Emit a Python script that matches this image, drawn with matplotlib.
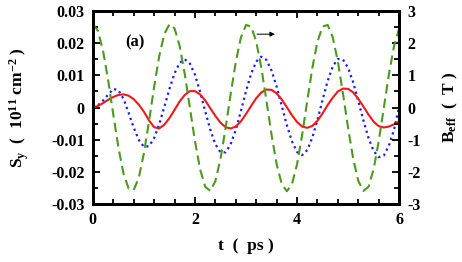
import matplotlib
matplotlib.use("Agg")
import matplotlib.pyplot as plt
from matplotlib.ticker import MultipleLocator

plt.rcParams['font.family'] = 'Liberation Serif'
plt.rcParams['font.weight'] = 'bold'
plt.rcParams['mathtext.fontset'] = 'custom'
plt.rcParams['mathtext.rm'] = 'Liberation Serif:bold'
plt.rcParams['mathtext.it'] = 'Liberation Serif:bold'
plt.rcParams['mathtext.bf'] = 'Liberation Serif:bold'

# time in ps
t = [i / 10 for i in range(61)]

# S_y (10^11 cm^-2), solid red
sy_red = [0.0, 0.0005, 0.0014, 0.0024, 0.0033, 0.0039, 0.0041, 0.0037, 0.0026, 0.0009,
          -0.0013, -0.0040, -0.0061, -0.0065, -0.0053, -0.0033, -0.0007, 0.0019, 0.0039, 0.0051,
          0.0051, 0.0041, 0.0022, -0.0002, -0.0026, -0.0047, -0.0061, -0.0065, -0.0059, -0.0043,
          -0.0020, 0.0005, 0.0029, 0.0047, 0.0056, 0.0055, 0.0044, 0.0025, 0.0001, -0.0024,
          -0.0045, -0.0059, -0.0063, -0.0057, -0.0041, -0.0018, 0.0008, 0.0031, 0.0050, 0.0059,
          0.0058, 0.0047, 0.0027, 0.0003, -0.0022, -0.0044, -0.0058, -0.0062, -0.0059, -0.0052,
          -0.0043]

# S_y, dotted blue
sy_blue = [0.0, 0.0007, 0.0022, 0.0040, 0.0058, 0.0054, 0.0027, -0.0016, -0.0062, -0.0101,
           -0.0122, -0.0120, -0.0095, -0.0052, 0.0002, 0.0058, 0.0106, 0.0139, 0.0150, 0.0137,
           0.0102, 0.0049, -0.0011, -0.0069, -0.0114, -0.0139, -0.0139, -0.0114, -0.0069, -0.0011,
           0.0051, 0.0105, 0.0143, 0.0158, 0.0148, 0.0115, 0.0065, 0.0005, -0.0055, -0.0105,
           -0.0138, -0.0148, -0.0132, -0.0093, -0.0038, 0.0024, 0.0083, 0.0128, 0.0151, 0.0149,
           0.0123, 0.0078, 0.0020, -0.0040, -0.0095, -0.0135, -0.0154, -0.0149, -0.0118, -0.0068,
           0.0003]

# B_eff (T), dashed green, right axis
b_eff = [2.600, 2.381, 1.761, 0.843, -0.215, -1.239, -2.052, -2.518, -2.565, -2.178,
         -1.420, -0.428, 0.639, 1.597, 2.283, 2.591, 2.459, 1.913, 1.043, 0.0,
         -1.044, -1.914, -2.460, -2.591, -2.284, -1.597, -0.639, 0.428, 1.420, 2.178,
         2.565, 2.520, 2.052, 1.239, 0.215, -0.844, -1.761, -2.381, -2.600, -2.381,
         -1.761, -0.844, 0.215, 1.239, 2.052, 2.520, 2.565, 2.178, 1.420, 0.428,
         -0.639, -1.597, -2.284, -2.591, -2.460, -1.914, -1.044, 0.0, 1.043, 1.913,
         2.459]

fig = plt.figure(figsize=(4.62, 2.62), dpi=100)
ax = fig.add_axes([0.201, 0.221, 0.663, 0.737])
ax2 = ax.twinx()

ax.plot(t, sy_red, color='#f01818', lw=1.5, zorder=3)
ax.plot(t, sy_blue, color='#1a1aff', lw=1.6, ls=(0, (1, 1.6)), zorder=2)
ax2.plot(t, b_eff, color='#4b9a1e', lw=1.5, ls=(0, (4.5, 2.5)))

ax.set_xlim(0, 6)
ax.set_ylim(-0.03, 0.03)
ax2.set_ylim(-3, 3)

ax.xaxis.set_major_locator(MultipleLocator(2))
ax.xaxis.set_minor_locator(MultipleLocator(0.4))
ax.yaxis.set_major_locator(MultipleLocator(0.01))
ax.yaxis.set_minor_locator(MultipleLocator(0.005))
ax2.yaxis.set_major_locator(MultipleLocator(1))
ax2.yaxis.set_minor_locator(MultipleLocator(0.5))

ax.yaxis.set_major_formatter(plt.FuncFormatter(lambda v, p: '0' if abs(v) < 1e-9 else '%.2f' % v))
ax.xaxis.set_major_formatter(plt.FuncFormatter(lambda v, p: '%d' % round(v)))
ax2.yaxis.set_major_formatter(plt.FuncFormatter(lambda v, p: '%d' % round(v)))

ax.tick_params(which='both', direction='in', top=True, right=False, width=1.3, labelsize=11.5, pad=6)
ax.tick_params(which='major', length=5)
ax.tick_params(which='minor', length=3.5)
ax2.tick_params(which='both', direction='in', width=1.3, labelsize=11.5, pad=6)
ax2.tick_params(which='major', length=5)
ax2.tick_params(which='minor', length=3.5)

for a in (ax, ax2):
    for s in a.spines.values():
        s.set_linewidth(2)

ax.set_xlabel('t  (  ps )', fontsize=12.5, fontweight='bold', labelpad=7)
ax.set_ylabel(r'S$_\mathrm{y}$  (  10$^{11}$ cm$^{-2}$ )', fontsize=12.5, fontweight='bold', labelpad=14)
ax2.set_ylabel(r'B$_\mathrm{eff}$  (  T )', fontsize=12.5, fontweight='bold', labelpad=14)

ax.text(0.82, 0.0203, '(a)', fontsize=12, fontweight='bold', ha='center', va='center')
ax.annotate('', xy=(3.62, 0.0228), xytext=(3.16, 0.0228),
            arrowprops=dict(arrowstyle='-|>', color='black', lw=0.7, mutation_scale=7))

fig.savefig('out.png', dpi=100)
